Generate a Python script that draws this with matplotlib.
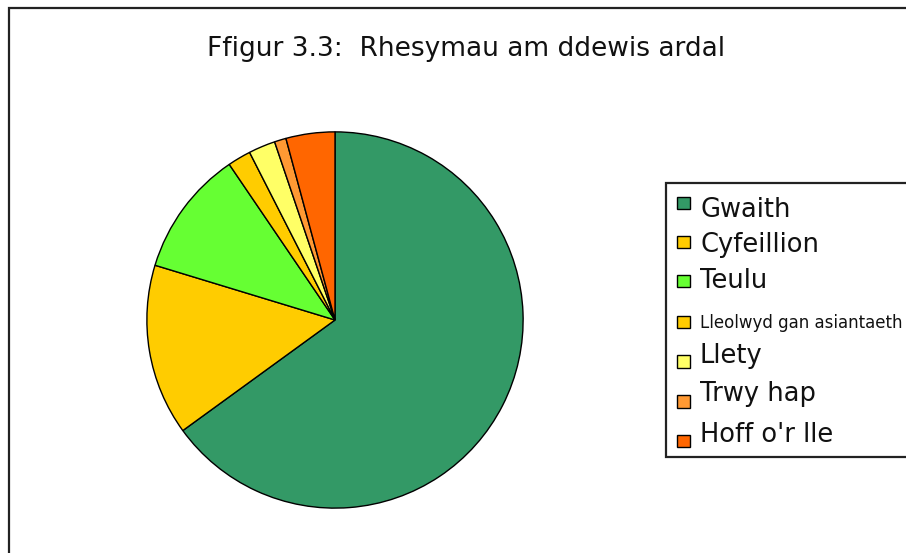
import matplotlib
matplotlib.use("Agg")
import matplotlib.pyplot as plt
from matplotlib.patches import Rectangle

plt.rcParams['font.family'] = ['DejaVu Sans']

categories = ["Gwaith", "Cyfeillion", "Teulu", "Lleolwyd gan asiantaeth",
              "Llety", "Trwy hap", "Hoff o'r lle"]
values = [65.0, 14.7, 10.8, 2.0, 2.3, 1.0, 4.2]
colors = ["#339966", "#FFCC00", "#66FF33", "#FFCC00", "#FFFF66", "#FF9933", "#FF6600"]
label_sizes = [18.5, 18.5, 18.5, 12, 18.5, 18.5, 18.5]
title = "Ffigur 3.3:  Rhesymau am ddewis ardal"

W, H = 906, 553
fig = plt.figure(figsize=(W / 100, H / 100), dpi=100)
fig.patch.set_facecolor("white")

def fx(px):
    return px / W

def fy(py):
    return 1 - py / H

# outer frame (left + top visible, extends beyond right/bottom)
fig.patches.append(Rectangle((fx(9), fy(570)), fx(950) - fx(9), fy(8) - fy(570),
                             transform=fig.transFigure, fill=False,
                             edgecolor="#222222", linewidth=1.6))

# pie
cx, cy, r = 335, 320, 190
ax = fig.add_axes([fx(cx - r), fy(cy + r), (2 * r) / W, (2 * r) / H])
ax.pie(values, colors=colors, startangle=90, counterclock=False, radius=1,
       wedgeprops=dict(edgecolor="black", linewidth=1.0))
ax.set_xlim(-1.01, 1.01)
ax.set_ylim(-1.01, 1.01)
ax.set_aspect("equal")
ax.axis("off")

fig.text(fx(466), fy(56.5), title, ha="center", va="baseline", fontsize=19, color="#111111")

# legend box
fig.patches.append(Rectangle((fx(666), fy(457)), fx(960) - fx(666), fy(183) - fy(457),
                             transform=fig.transFigure, fill=True, facecolor="white",
                             edgecolor="#222222", linewidth=1.6))
base_y = [217, 252, 288, 328, 363, 401, 442]
sq_y = [203, 242, 281, 322, 361.5, 401.5, 441]
sq = 12.5
for lab, col, by, sy, fs in zip(categories, colors, base_y, sq_y, label_sizes):
    fig.patches.append(Rectangle((fx(677), fy(sy + sq / 2)), sq / W, sq / H,
                                 transform=fig.transFigure, facecolor=col,
                                 edgecolor="black", linewidth=1.0))
    fig.text(fx(700), fy(by), lab, ha="left", va="baseline", fontsize=fs, color="#111111")

fig.savefig("out.png", dpi=100)
